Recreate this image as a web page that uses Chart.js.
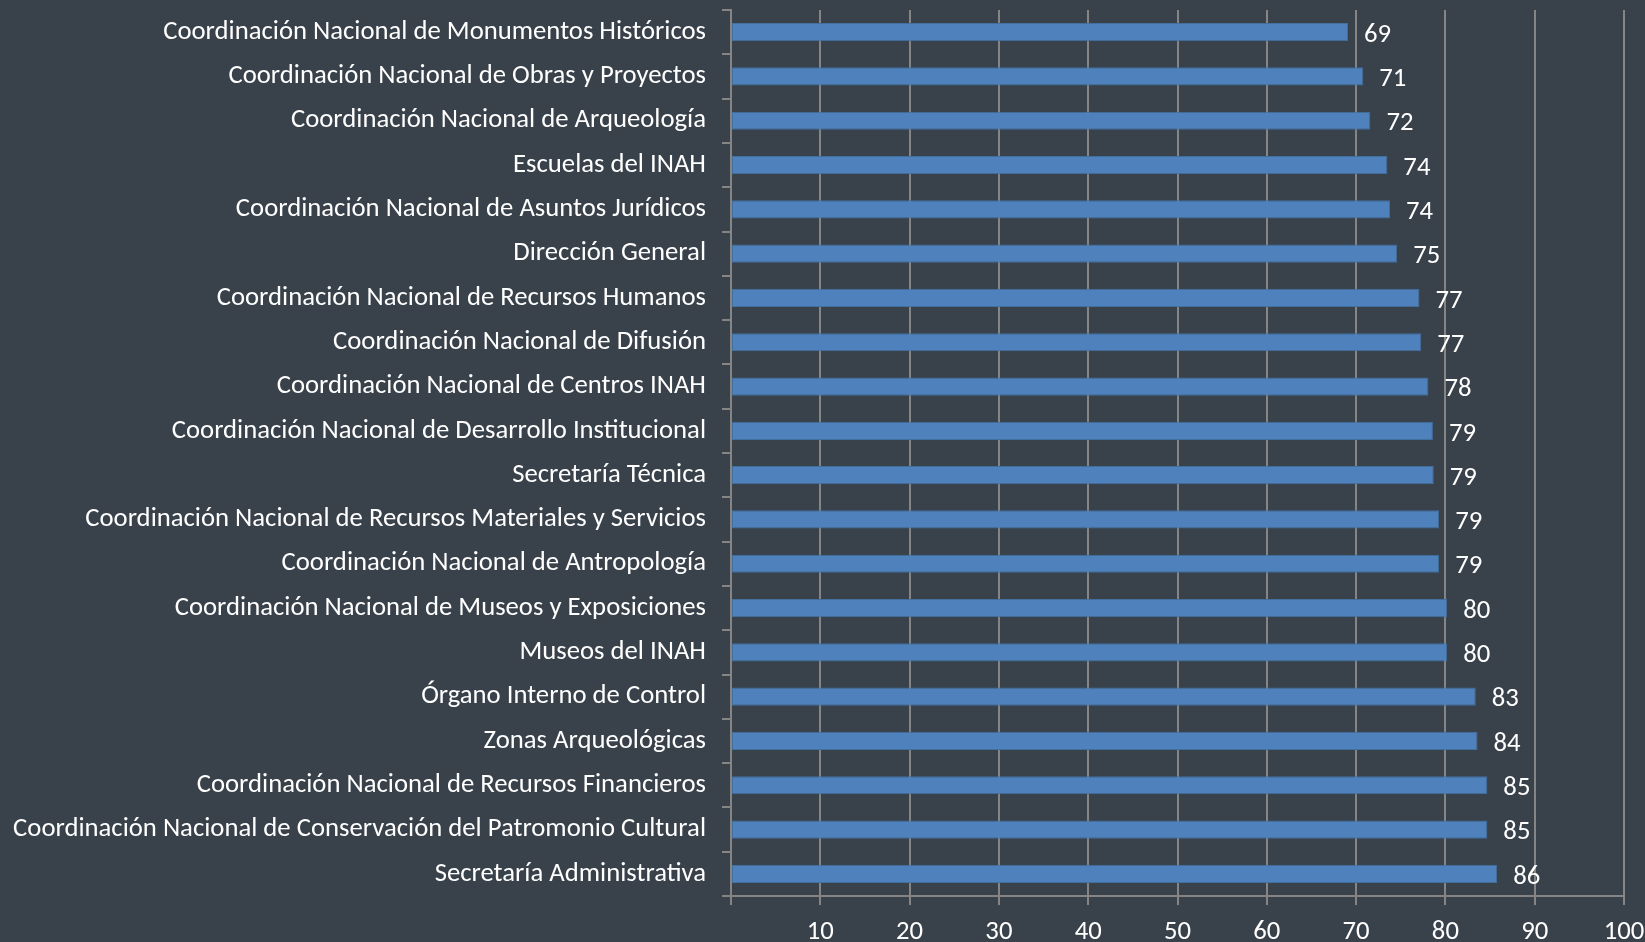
<!DOCTYPE html>
<html>
<head>
<meta charset="utf-8">
<script src="https://cdn.jsdelivr.net/npm/chart.js@4"></script>
<style>
  html, body { margin: 0; padding: 0; background: #39414a; }
  #wrap { width: 1645px; height: 942px; }
</style>
</head>
<body>
<div id="wrap"><canvas id="myChart" width="1645" height="942"></canvas></div>
<script>
/* categories, top to bottom */
const areas = [
  'Coordinación Nacional de Monumentos Históricos',
  'Coordinación Nacional de Obras y Proyectos',
  'Coordinación Nacional de Arqueología',
  'Escuelas del INAH',
  'Coordinación Nacional de Asuntos Jurídicos',
  'Dirección General',
  'Coordinación Nacional de Recursos Humanos',
  'Coordinación Nacional de Difusión',
  'Coordinación Nacional de Centros INAH',
  'Coordinación Nacional de Desarrollo Institucional',
  'Secretaría Técnica',
  'Coordinación Nacional de Recursos Materiales y Servicios',
  'Coordinación Nacional de Antropología',
  'Coordinación Nacional de Museos y Exposiciones',
  'Museos del INAH',
  'Órgano Interno de Control',
  'Zonas Arqueológicas',
  'Coordinación Nacional de Recursos Financieros',
  'Coordinación Nacional de Conservación del Patromonio Cultural',
  'Secretaría Administrativa',
];

/* scores (bar lengths, labels show them rounded) */
const scores = [
  69.1, 70.8, 71.6, 73.5, 73.8, 74.6, 77.1, 77.3, 78.1, 78.6,
  78.7, 79.3, 79.3, 80.2, 80.2, 83.4, 83.6, 84.7, 84.7, 85.8,
];

/* x axis ticks */
const xMin = 0;
const xMax = 100;
const xStep = 10;

const fontFamily = 'Carlito, Calibri, Lato, "Open Sans", sans-serif';

/* size the font so the longest label is as wide as in the picture */
const probe = document.createElement('canvas').getContext('2d');
probe.font = '24px ' + fontFamily;
const longest = Math.max(...areas.map((a) => probe.measureText(a).width));
const fontSize = Math.round(24 * 692 / longest * 10) / 10;

const gridColor = '#858585';

/* value labels to the right of each bar */
const valueLabels = {
  id: 'valueLabels',
  afterDatasetsDraw(chart) {
    const ctx = chart.ctx;
    const meta = chart.getDatasetMeta(0);
    ctx.save();
    ctx.fillStyle = '#ffffff';
    ctx.font = fontSize + 'px ' + fontFamily;
    ctx.textAlign = 'left';
    ctx.textBaseline = 'middle';
    meta.data.forEach((bar, i) => {
      ctx.fillText(String(Math.round(scores[i])), bar.x + 16, bar.y + 3);
    });
    ctx.restore();
  },
};

const config = {
  type: 'bar',
  data: {
    labels: areas,
    datasets: [
      {
        data: scores,
        backgroundColor: '#4f81bd',
        borderColor: '#41709f',
        borderWidth: 1,
        borderSkipped: false,
        barPercentage: 0.41,
        categoryPercentage: 1,
      },
    ],
  },
  options: {
    indexAxis: 'y',
    responsive: false,
    animation: false,
    layout: { padding: { left: 0, right: 21, top: 10, bottom: 0 } },
    plugins: {
      legend: { display: false },
      tooltip: { enabled: false },
    },
    scales: {
      y: {
        afterFit(scale) {
          scale.width = 731;
          scale.paddingTop = 0;
          scale.paddingBottom = 0;
        },
        grid: {
          drawOnChartArea: false,
          drawTicks: true,
          tickLength: 9,
          color: gridColor,
          lineWidth: 2,
        },
        border: { color: gridColor, width: 2 },
        ticks: {
          color: '#ffffff',
          padding: 16,
          autoSkip: false,
          font: { size: fontSize, family: fontFamily },
        },
      },
      x: {
        min: xMin,
        max: xMax,
        afterFit(scale) {
          scale.height = 46;
          scale.paddingLeft = 0;
          scale.paddingRight = 0;
        },
        grid: {
          drawOnChartArea: true,
          drawTicks: true,
          tickLength: 9,
          color: gridColor,
          lineWidth: 2,
        },
        border: { color: gridColor, width: 2 },
        ticks: {
          stepSize: xStep,
          color: '#ffffff',
          padding: 11,
          maxRotation: 0,
          font: { size: fontSize, family: fontFamily },
          callback: (v) => (v === 0 ? '' : v),
        },
      },
    },
  },
  plugins: [valueLabels],
};

new Chart(document.querySelector('#myChart'), config);
</script>
</body>
</html>
